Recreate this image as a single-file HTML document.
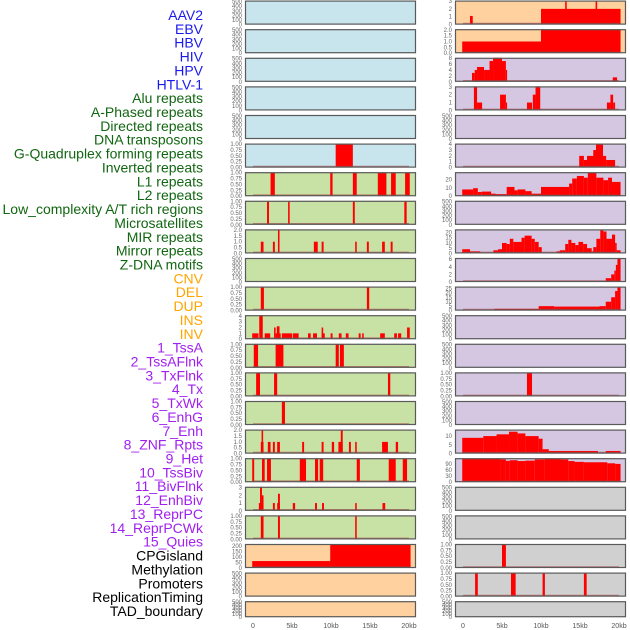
<!DOCTYPE html>
<html><head><meta charset="utf-8">
<style>
html,body{margin:0;padding:0;background:#fff;}
svg{display:block;font-family:"Liberation Sans",sans-serif;}
</style></head>
<body>
<svg id="chart" width="630" height="630" viewBox="0 0 630 630" xmlns="http://www.w3.org/2000/svg"></svg>
<script>
const labelNames = ["AAV2","EBV","HBV","HIV","HPV","HTLV-1","Alu repeats","A-Phased repeats","Directed repeats","DNA transposons","G-Quadruplex forming repeats","Inverted repeats","L1 repeats","L2 repeats","Low_complexity A/T rich regions","Microsatellites","MIR repeats","Mirror repeats","Z-DNA motifs","CNV","DEL","DUP","INS","INV","1_TssA","2_TssAFlnk","3_TxFlnk","4_Tx","5_TxWk","6_EnhG","7_Enh","8_ZNF_Rpts","9_Het","10_TssBiv","11_BivFlnk","12_EnhBiv","13_ReprPC","14_ReprPCWk","15_Quies","CPGisland","Methylation","Promoters","ReplicationTiming","TAD_boundary"];
const labelGroups = [0,0,0,0,0,0,1,1,1,1,1,1,1,1,1,1,1,1,1,2,2,2,2,2,3,3,3,3,3,3,3,3,3,3,3,3,3,3,3,4,4,4,4,4];
const groupColors = ["#1a1aee","#116611","#ffa500","#a020f0","#000000"];
const xTickLabels = ["0","5kb","10kb","15kb","20kb"];
const xTickValues = [0,5,10,15,20];

const E = ["0","100","200","300","400","500"];
const T1 = ["0.00","0.25","0.50","0.75","1.00"];
const T2 = ["0.0","0.5","1.0","1.5","2.0"];
const T3 = ["0","1","2","3"];
const T4 = ["0","1","2","3","4"];

const rowTicks = [E,E,E,E,E,T1,T1,T1,T2,E,T1,T4,T1,T1,T1,T2,T1,T3,T1,["0","50","100","150","200"],E,E,
  T3,T2,["0","2","4","6","8"],T3,E,T4,["0","10","20"],E,["0","5","10","15","20"],["0","2","4","6"],["0","5","10","15","20","25"],E,E,T1,E,["0","5","10"],["0","30","60","90"],E,E,T1,T1,E];
const rowMax = [520,520,520,520,520,1.02,1.02,1.02,2.05,520,1.02,4.1,1.02,1.02,1.02,2.05,1.02,3.1,1.02,218,520,520,
  3.05,2.05,8.1,3.05,520,4.1,28.5,520,23,6.3,27,520,520,1.02,520,13.7,118,520,520,1.02,1.02,520];
const rowSegs = [
 [],[],[],[],[],
 [[10.6,12.8,1]],
 [[2.25,2.8,1],[9.9,10.2,1],[12.8,13.3,1],[16,17.1,1],[17.7,18.3,1],[19.5,20.1,1]],
 [[1.8,2.05,1],[4.5,4.7,1],[12.8,13.05,1],[19.4,19.7,1]],
 [[1.0,1.35,1],[2.55,2.8,1],[3.2,3.4,2.1],[7.8,8.3,1],[8.8,9.05,1],[13.1,13.3,1],[14.6,14.85,1],[16.55,16.9,1],[17.65,17.9,1]],
 [],
 [[1.0,1.4,1],[14.6,14.9,1]],
 [[-0.1,0.7,1],[0.8,1.25,4.2],[1.5,2.2,1],[2.7,2.9,2],[2.9,3.55,1],[3.05,3.4,2.2],[3.7,5.0,1],[5.1,5.85,1],[7.05,7.4,1],[7.7,8.2,1],[8.8,9.2,1],[8.8,9.0,2],[9.95,10.2,1],[11.0,11.35,1],[11.9,12.25,1],[13.55,13.8,1],[14.0,14.2,1],[16.3,16.9,1],[18.1,18.45,1],[18.6,19.0,1],[19.75,20.1,2]],
 [[0.1,0.65,1],[2.9,3.9,1],[10.6,11.0,1],[11.15,11.65,1]],
 [[0.4,0.9,1],[2.7,3.1,1],[17.3,17.6,1]],
 [[3.7,4.1,1]],
 [[1.0,1.35,1],[1.1,1.3,2.1],[1.9,2.25,1],[2.55,2.8,1],[3.1,3.45,1],[6.3,6.55,1],[8.8,9.05,1],[10.1,10.4,1],[10.95,11.5,1],[11.25,11.5,2.1],[12.3,12.55,1],[13.1,13.3,1],[16.55,17.3,1],[18.3,18.6,1]],
 [[-0.1,0.15,1],[1.15,1.5,1],[1.8,2.3,1],[6.0,6.8,1],[7.95,8.35,1],[8.55,9.0,1],[13.3,13.7,1],[17.4,18.3,1],[19.2,19.75,1]],
 [[0.75,1.35,1],[0.9,1.15,3.2],[1.15,1.35,2],[2.55,2.8,1],[3.1,3.45,1],[3.2,3.45,2.2],[5.1,5.4,1],[7.95,8.2,1],[8.85,9.1,1],[13.1,13.3,1],[16.6,16.95,1]],
 [[1.0,1.35,1],[3.2,3.45,1],[13.1,13.3,1]],
 [[-0.1,10,63],[9.9,20.2,230]],
 [],[],
 [[0.9,1.25,1.1],[10,20.2,2],[13.1,13.3,3.1],[17.0,17.2,3.1]],
 [[-0.1,10,1],[10,20.2,2.1]],
 [[1.15,1.5,3],[1.5,1.8,4],[1.8,2.7,5],[2.7,3.4,4],[3.4,3.85,7],[3.85,5.0,8.2],[5.0,5.5,7],[5.5,5.65,4],[19.2,19.75,1.5]],
 [[1.4,1.8,3.1],[1.8,2.45,1],[4.75,5.5,2],[5.5,5.65,1],[8.2,8.85,1],[8.95,9.3,2],[9.3,9.9,3.1],[18.45,18.9,1],[18.9,19.25,2],[19.25,19.5,1]],
 [],
 [[14.9,15.5,2],[15.5,15.9,1.3],[15.9,16.9,2],[16.7,17.05,3],[17.05,17.95,4.2],[17.95,18.35,2],[18.35,19.5,1.3]],
 [[-0.1,1.3,8],[1.3,1.9,9.5],[1.9,2.4,5],[2.4,3.6,5.5],[3.6,4.2,3],[4.2,5.6,2.5],[5.6,6.6,11],[6.6,7.0,7],[7.0,8.0,8],[8.0,8.8,6],[8.8,10,3],[10,13.6,11],[13.6,14.0,15],[14.0,14.6,21],[14.6,15.5,24],[15.5,16.0,22],[16.0,17.1,28],[17.1,18.0,22],[18.0,18.6,19],[18.6,19.1,22],[19.1,20.2,17]],
 [],
 [[-0.1,0.9,4],[0.9,2.2,2],[3.9,4.5,3],[4.5,5.0,4],[5.0,5.6,10],[5.6,6.0,9],[6.0,6.45,14],[6.45,7.5,11],[7.5,7.9,15],[7.9,8.8,17],[8.8,9.2,14],[9.2,9.7,11],[9.7,10.1,6],[12.0,12.4,2],[12.4,13.1,3],[13.1,13.5,9],[13.5,13.9,13],[13.9,14.4,10],[14.4,14.8,8],[14.8,15.4,11],[15.4,15.9,9],[15.9,16.5,5],[16.5,16.7,2],[16.7,17.1,6],[17.1,17.6,14],[17.6,18.0,22],[18.0,18.4,21],[18.4,19.1,14],[19.1,19.5,18],[19.5,19.7,10],[19.7,20.2,3]],
 [[18.3,19.0,1],[19.0,19.4,2],[19.4,19.6,3],[19.6,19.8,4.5],[19.8,20.2,6.3]],
 [[4.0,9.7,2],[9.7,11.7,5],[11.7,17.5,4.5],[17.5,18.3,5],[18.3,19.0,10],[19.0,19.5,15],[19.5,19.8,22],[19.8,20.2,27]],
 [],[],
 [[8.2,8.85,1]],
 [],
 [[-0.1,2.6,9],[2.6,4.3,10],[4.3,5.9,11],[5.9,7.0,12.5],[7.0,8.0,11.5],[8.0,9.7,10],[9.7,10.2,8.5],[10.2,11.0,2.5],[11.0,17.3,1.5],[17.3,18.3,0.5],[18.3,20.2,1.5]],
 [[-0.1,4.8,118],[4.8,5.5,112],[5.5,6.0,105],[6.0,7.0,108],[7.0,8.0,104],[8.0,9.2,106],[9.2,10.5,112],[10.5,12.5,118],[12.5,13.5,112],[13.5,14.3,104],[14.3,15.5,100],[15.5,18.5,98],[18.5,19.5,93],[19.5,20.2,90]],
 [],[],
 [[5.0,5.5,1]],
 [[1.55,1.9,1],[6.15,6.75,1],[10.2,10.5,1],[15.5,15.85,1]],
 []
];
const bgColors = ["#c8e4ec","#c8e2a6","#ffd19f","#d5c6e2","#d0d0d0"];

const NS = "http://www.w3.org/2000/svg";
const svg = document.getElementById('chart');
function mk(tag, attrs, parent){ const e=document.createElementNS(NS,tag); for(const k in attrs) e.setAttribute(k,attrs[k]); (parent||svg).appendChild(e); return e; }

// labels
labelNames.forEach((n,i)=>{
  const t = mk('text',{x:203,y:15+i*13.86,'text-anchor':'end','dominant-baseline':'central','font-size':'14',fill:groupColors[labelGroups[i]]});
  t.textContent = n;
  
  
});

const colX = [245,455];
const panelW = 171;
function xScale(col, kb){ return colX[col] + 8 + kb*7.8; }

for(let idx=0; idx<44; idx++){
  const col = idx<22?0:1, r = idx%22;
  const top = 0.6 + 28.6*r, h = r===21?16:24, bottom = top+h;
  const x0 = colX[col];
  const g = mk('g',{});
  
  
  const bg = mk('rect',{x:x0,y:top,width:panelW,height:h,fill:bgColors[labelGroups[idx]]},g);
  const clip = mk('clipPath',{id:'c'+idx},g);
  mk('rect',{x:x0,y:top,width:panelW,height:h},clip);
  const max = rowMax[idx];
  const yS = v => bottom - v/max*h;
  const segs = rowSegs[idx];
  const bars = mk('g',{'clip-path':'url(#c'+idx+')'},g);
  segs.forEach(s=>{
    const xa=xScale(col,s[0]), xb=xScale(col,s[1]), yt=yS(s[2]);
    const b = mk('rect',{x:xa,y:yt,width:Math.max(1.2,xb-xa),height:bottom-yt,fill:'#ff0000'},bars);
    
    
  });
  if(segs.length){
    const bl = mk('line',{x1:xScale(col,0),x2:xScale(col,20),y1:bottom-1,y2:bottom-1,stroke:'rgba(170,60,60,0.6)','stroke-width':1.6},bars);
    
    
  }
  mk('rect',{x:x0+0.5,y:top+0.5,width:panelW-1,height:h-1,fill:'none',stroke:'#5a5a5a','stroke-width':1.2},g);
  // y ticks
  const ticks = rowTicks[idx];
  ticks.forEach(lab=>{
    const v = parseFloat(lab);
    const t = mk('text',{x:x0-3,y:yS(v)+2,'text-anchor':'end','font-size':'6',fill:'#666'},g);
    t.textContent = lab;
    
    
  });
}
// x axis ticks
[0,1].forEach(col=>{
  xTickValues.forEach((v,i)=>{
    const t = mk('text',{x:xScale(col,v),y:628,'text-anchor':'middle','font-size':'7',fill:'#555'});
    t.textContent = xTickLabels[i];
    
    
  });
});
</script>
</body></html>
